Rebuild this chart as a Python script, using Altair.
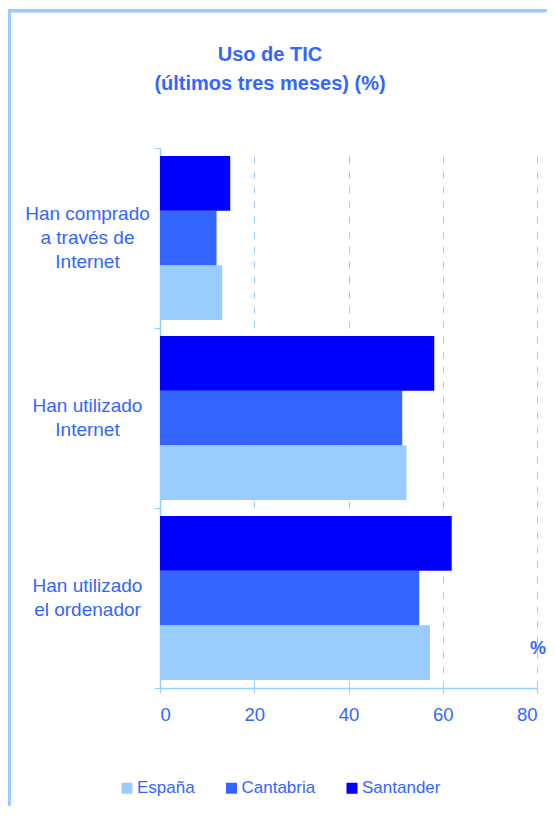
import altair as alt
import pandas as pd

# ---- data ----
categories = ["Han comprado\na través de\nInternet", "Han utilizado\nInternet", "Han utilizado\nel ordenador"]
series = ["España", "Cantabria", "Santander"]
espana = [13.2, 52.3, 57.3]
cantabria = [12.0, 51.4, 55.0]
santander = [14.9, 58.2, 61.9]
x_ticks = [0, 20, 40, 60, 80]
title_lines = ["Uso de TIC", "(últimos tres meses) (%)"]
unit_label = "%"

colors = ["#99CCFF", "#3366FF", "#0000FF"]
TXT = "#3366FF"
LIGHT = "#99CCFF"
FONT = "Liberation Sans"
LH = 24

rows = []
for i, c in enumerate(categories):
    for s, vals in zip(series, [espana, cantabria, santander]):
        rows.append({"categoria": c, "serie": s, "valor": vals[i]})
df = pd.DataFrame(rows)

ycat = alt.Y("categoria:N", sort=categories,
             scale=alt.Scale(paddingInner=0, paddingOuter=0),
             axis=alt.Axis(title=None, labels=False, tickBand="extent",
                           tickSize=6, tickColor=LIGHT, domainColor=LIGHT,
                           domainWidth=1.5, grid=False))

bars = alt.Chart(df).mark_bar(strokeWidth=0).encode(
    y=ycat,
    yOffset=alt.YOffset("serie:N", sort=["Santander", "Cantabria", "España"],
                        scale=alt.Scale(paddingInner=0, paddingOuter=0.146)),
    x=alt.X("valor:Q", scale=alt.Scale(domain=[0, 80], nice=False),
            axis=alt.Axis(title=None, values=x_ticks, labelFontSize=18.5,
                          labelColor=TXT, labelFont=FONT, labelPadding=12.5,
                          tickSize=5, tickColor=LIGHT, domainColor=LIGHT,
                          domainWidth=1.5, grid=True, gridColor=LIGHT,
                          gridDash=[7, 8], gridWidth=1)),
    color=alt.Color("serie:N", scale=alt.Scale(domain=series, range=colors),
                    legend=alt.Legend(title=None, orient="none", legendX=-41.5,
                                      legendY=631.5, direction="horizontal",
                                      symbolType="square", symbolSize=121,
                                      symbolStrokeWidth=0, labelFontSize=17,
                                      labelColor=TXT, labelFont=FONT,
                                      labelOffset=1.5, columnPadding=27.5,
                                      padding=0)),
)

# category labels (multi-line, centred on each band)
cat_df = pd.DataFrame({"categoria": categories})
label_layers = []
for n in (2, 3):
    label_layers.append(
        alt.Chart(cat_df).transform_filter(
            f"length(split(datum.categoria, '\\n')) == {n}"
        ).mark_text(font=FONT, fontSize=19, color=TXT, align="center",
                    baseline="middle", lineBreak="\n", lineHeight=LH,
                    dy=-(n - 1) * LH / 2).encode(
            y=alt.Y("categoria:N", sort=categories),
            x=alt.value(-72.5), text="categoria:N")
    )

one = alt.Data(values=[{"t": "\n".join(title_lines), "u": unit_label}])

title = alt.Chart(one).mark_text(
    font=FONT, fontSize=20, fontWeight="bold", color=TXT, align="center",
    baseline="alphabetic", lineBreak="\n", lineHeight=29
).encode(text="t:N", x=alt.value(110), y=alt.value(-87))

pct = alt.Chart(one).mark_text(
    font=FONT, fontSize=18, fontWeight="bold", color=TXT, align="center",
    baseline="middle"
).encode(text="u:N", x=alt.value(378), y=alt.value(501))

border_top = alt.Chart(one).mark_rule(color=LIGHT, strokeWidth=3.5).encode(
    x=alt.value(-152), x2=alt.value(395), y=alt.value(-137.3))
border_left = alt.Chart(one).mark_rule(color=LIGHT, strokeWidth=3.5).encode(
    x=alt.value(-150.8), y=alt.value(-139), y2=alt.value(680))

chart = alt.layer(border_top, border_left, bars, *label_layers, title, pct).properties(
    width=377, height=540,
    padding={"left": 152, "top": 140, "right": 10, "bottom": 118},
    autosize=alt.AutoSizeParams(type="none"),
).configure_view(stroke=None)

chart.save("out.html", embed_options={"renderer": "svg", "actions": False})
